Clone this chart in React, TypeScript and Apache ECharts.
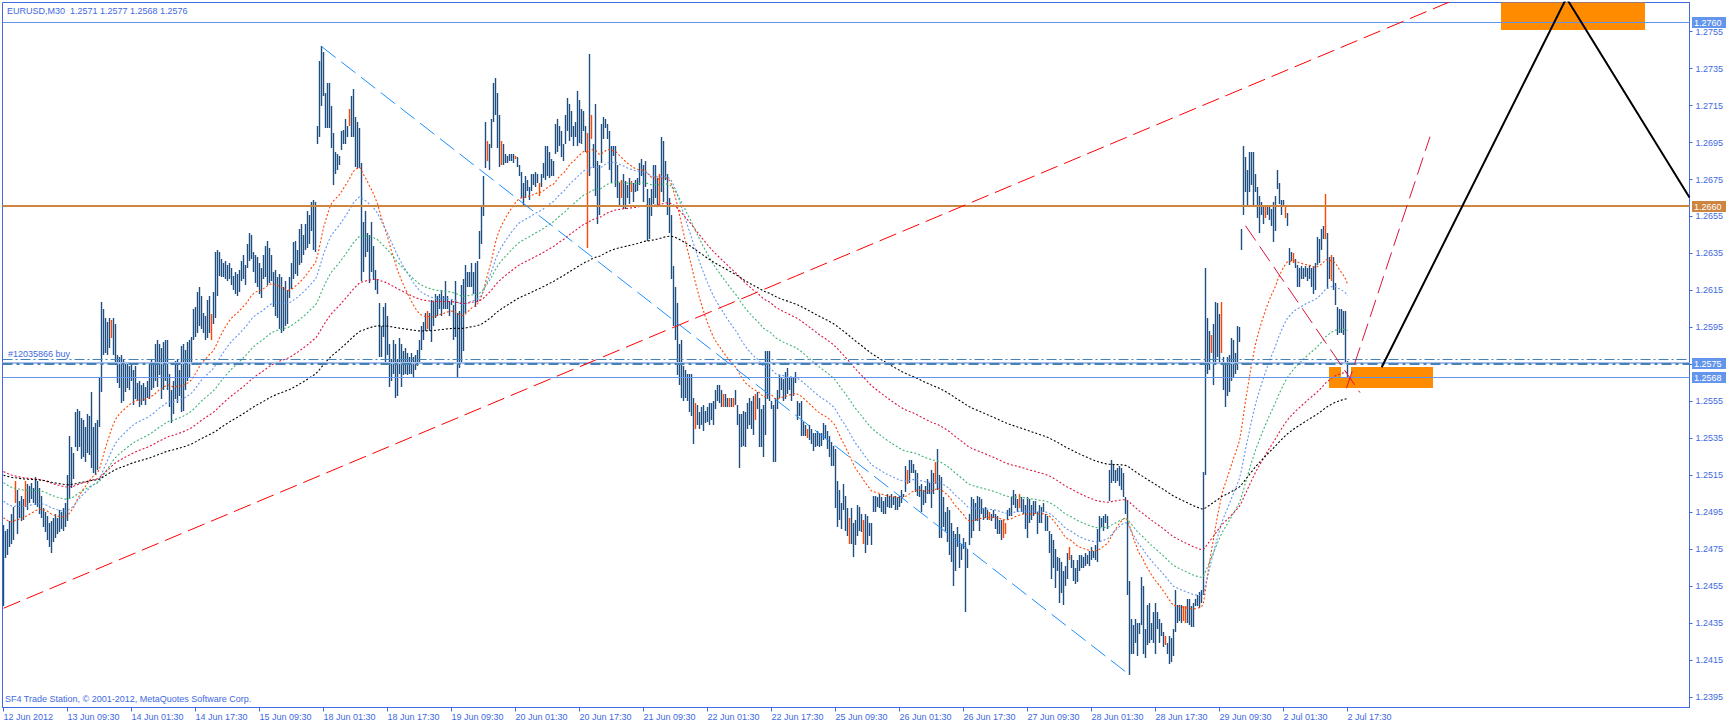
import { useEffect, useRef } from 'react';
import * as echarts from 'echarts';

const FONT = '"Liberation Sans", Arial, Helvetica, sans-serif';
const TEXT_BLUE = '#4169E1';

const symbolName = 'EURUSD,M30';
const lastBarOHLC = [1.2571, 1.2577, 1.2568, 1.2576];
const copyrightText = 'SF4 Trade Station, \u00a9 2001-2012, MetaQuotes Software Corp.';

const timeLabels = [
  '12 Jun 2012', '13 Jun 09:30', '14 Jun 01:30', '14 Jun 17:30', '15 Jun 09:30', '18 Jun 01:30',
  '18 Jun 17:30', '19 Jun 09:30', '20 Jun 01:30', '20 Jun 17:30', '21 Jun 09:30', '22 Jun 01:30',
  '22 Jun 17:30', '25 Jun 09:30', '26 Jun 01:30', '26 Jun 17:30', '27 Jun 09:30', '28 Jun 01:30',
  '28 Jun 17:30', '29 Jun 09:30', '2 Jul 01:30', '2 Jul 17:30',
];
const barsPerLabel = 32;

const priceTicks = [
  1.2395, 1.2415, 1.2435, 1.2455, 1.2475, 1.2495, 1.2515, 1.2535, 1.2555, 1.2575,
  1.2595, 1.2615, 1.2635, 1.2655, 1.2675, 1.2695, 1.2715, 1.2735, 1.2755,
];

// M30 bars, 12 Jun 17:30 .. 2 Jul 17:30
const barHighs = [
  1.2488,1.2485,1.2486,1.2490,1.2494,1.2498,1.2512,1.2507,1.2501,1.2504,
  1.2502,1.2512,1.2510,1.2509,1.2511,1.2508,1.2514,1.2512,1.2508,1.2504,
  1.2497,1.2495,1.2493,1.2489,1.2490,1.2492,1.2494,1.2492,1.2496,1.2495,
  1.2497,1.2500,1.2515,1.2536,1.2530,1.2527,1.2549,1.2551,1.2550,1.2546,
  1.2545,1.2541,1.2548,1.2547,1.2560,1.2541,1.2543,1.2545,1.2568,1.2609,
  1.2605,1.2600,1.2598,1.2600,1.2599,1.2600,1.2597,1.2580,1.2579,1.2580,
  1.2578,1.2575,1.2576,1.2574,1.2575,1.2572,1.2574,1.2565,1.2566,1.2564,
  1.2565,1.2563,1.2566,1.2575,1.2578,1.2576,1.2586,1.2588,1.2586,1.2584,
  1.2587,1.2588,1.2588,1.2570,1.2561,1.2566,1.2577,1.2578,1.2572,1.2585,
  1.2586,1.2583,1.2587,1.2588,1.2590,1.2605,1.2606,1.2614,1.2617,1.2612,
  1.2603,1.2601,1.2610,1.2612,1.2602,1.2614,1.2636,1.2637,1.2636,1.2632,
  1.2630,1.2631,1.2629,1.2630,1.2627,1.2623,1.2625,1.2624,1.2626,1.2631,
  1.2634,1.2629,1.2640,1.2646,1.2645,1.2636,1.2634,1.2633,1.2630,1.2627,
  1.2634,1.2639,1.2642,1.2638,1.2634,1.2625,1.2626,1.2622,1.2624,1.2622,
  1.2617,1.2620,1.2615,1.2622,1.2630,1.2641,1.2642,1.2637,1.2648,1.2651,
  1.2645,1.2651,1.2658,1.2656,1.2663,1.2664,1.2663,1.2704,1.2739,1.2747,
  1.2744,1.2722,1.2727,1.2727,1.2715,1.2700,1.2690,1.2689,1.2688,1.2701,
  1.2702,1.2708,1.2704,1.2713,1.2720,1.2724,1.2709,1.2706,1.2703,1.2684,
  1.2652,1.2658,1.2646,1.2645,1.2652,1.2639,1.2626,1.2621,1.2608,1.2596,
  1.2606,1.2608,1.2601,1.2586,1.2578,1.2588,1.2586,1.2578,1.2589,1.2586,
  1.2582,1.2584,1.2581,1.2579,1.2581,1.2579,1.2580,1.2583,1.2588,1.2596,
  1.2598,1.2603,1.2604,1.2603,1.2610,1.2609,1.2613,1.2612,1.2613,1.2615,
  1.2612,1.2620,1.2612,1.2609,1.2610,1.2607,1.2620,1.2603,1.2604,1.2618,
  1.2621,1.2629,1.2625,1.2625,1.2630,1.2625,1.2630,1.2631,1.2647,1.2661,
  1.2677,1.2706,1.2696,1.2694,1.2708,1.2727,1.2730,1.2722,1.2710,1.2696,
  1.2694,1.2689,1.2688,1.2689,1.2689,1.2689,1.2688,1.2687,1.2683,1.2679,
  1.2673,1.2677,1.2675,1.2671,1.2678,1.2678,1.2679,1.2678,1.2673,1.2678,
  1.2684,1.2693,1.2693,1.2690,1.2686,1.2685,1.2705,1.2708,1.2704,1.2701,
  1.2694,1.2710,1.2719,1.2716,1.2712,1.2704,1.2706,1.2723,1.2718,1.2713,
  1.2712,1.2704,1.2700,1.2743,1.2710,1.2694,1.2716,1.2685,1.2683,1.2705,
  1.2709,1.2708,1.2705,1.2701,1.2693,1.2693,1.2693,1.2683,1.2673,1.2675,
  1.2678,1.2674,1.2672,1.2676,1.2674,1.2673,1.2675,1.2676,1.2684,1.2686,
  1.2683,1.2685,1.2670,1.2665,1.2670,1.2683,1.2683,1.2676,1.2678,1.2698,
  1.2696,1.2685,1.2678,1.2665,1.2656,1.2628,1.2617,1.2608,1.2586,1.2588,
  1.2574,1.2572,1.2570,1.2570,1.2570,1.2557,1.2554,1.2553,1.2549,1.2552,
  1.2553,1.2550,1.2552,1.2554,1.2554,1.2555,1.2561,1.2564,1.2564,1.2561,
  1.2559,1.2559,1.2557,1.2557,1.2557,1.2557,1.2561,1.2553,1.2548,1.2548,
  1.2550,1.2549,1.2554,1.2557,1.2555,1.2558,1.2559,1.2560,1.2557,1.2551,
  1.2553,1.2582,1.2582,1.2582,1.2555,1.2553,1.2557,1.2561,1.2569,1.2568,
  1.2567,1.2571,1.2573,1.2568,1.2568,1.2568,1.2571,1.2555,1.2554,1.2555,
  1.2544,1.2542,1.2540,1.2542,1.2540,1.2538,1.2538,1.2539,1.2538,1.2538,
  1.2543,1.2542,1.2539,1.2536,1.2533,1.2531,1.2529,1.2512,1.2507,1.2500,
  1.2510,1.2504,1.2497,1.2492,1.2497,1.2489,1.2491,1.2499,1.2498,1.2494,
  1.2491,1.2494,1.2493,1.2489,1.2489,1.2504,1.2504,1.2503,1.2505,1.2503,
  1.2501,1.2503,1.2505,1.2504,1.2505,1.2503,1.2504,1.2503,1.2504,1.2507,
  1.2505,1.2520,1.2518,1.2523,1.2523,1.2521,1.2518,1.2516,1.2509,1.2510,
  1.2507,1.2509,1.2513,1.2511,1.2518,1.2516,1.2522,1.2529,1.2515,1.2514,
  1.2503,1.2495,1.2498,1.2496,1.2489,1.2485,1.2483,1.2487,1.2483,1.2478,
  1.2481,1.2479,1.2475,1.2494,1.2503,1.2502,1.2500,1.2504,1.2503,1.2502,
  1.2497,1.2498,1.2496,1.2495,1.2494,1.2496,1.2494,1.2493,1.2491,1.2491,
  1.2491,1.2489,1.2496,1.2497,1.2503,1.2507,1.2505,1.2502,1.2505,1.2503,
  1.2502,1.2499,1.2503,1.2502,1.2499,1.2501,1.2501,1.2495,1.2499,1.2498,
  1.2500,1.2494,1.2493,1.2485,1.2483,1.2480,1.2475,1.2471,1.2470,1.2468,
  1.2463,1.2466,1.2473,1.2476,1.2472,1.2469,1.2465,1.2469,1.2472,1.2472,
  1.2471,1.2473,1.2472,1.2474,1.2476,1.2474,1.2477,1.2486,1.2493,1.2492,
  1.2493,1.2494,1.2493,1.2518,1.2523,1.2521,1.2518,1.2519,1.2520,1.2519,
  1.2516,1.2503,1.2501,1.2458,1.2437,1.2434,1.2437,1.2435,1.2435,1.2460,
  1.2455,1.2432,1.2445,1.2446,1.2435,1.2441,1.2446,1.2441,1.2437,1.2435,
  1.2430,1.2428,1.2424,1.2428,1.2427,1.2432,1.2453,1.2445,1.2445,1.2445,
  1.2444,1.2444,1.2448,1.2448,1.2444,1.2446,1.2448,1.2450,1.2452,1.2453,
  1.2517,1.2627,1.2600,1.2593,1.2591,1.2597,1.2609,1.2608,1.2602,1.2609,
  1.2579,1.2576,1.2579,1.2580,1.2589,1.2588,1.2581,1.2596,1.2595,1.2648,
  1.2693,1.2687,1.2680,1.2690,1.2690,1.2690,1.2678,1.2671,1.2666,1.2663,
  1.2660,1.2660,1.2661,1.2660,1.2659,1.2663,1.2666,1.2680,1.2673,1.2664,
  1.2664,1.2661,1.2657,1.2638,1.2636,1.2635,1.2632,1.2629,1.2627,1.2628,
  1.2627,1.2628,1.2627,1.2629,1.2627,1.2628,1.2630,1.2644,1.2643,1.2648,
  1.2650,1.2667,1.2646,1.2633,1.2634,1.2633,1.2619,1.2606,1.2605,1.2605,
  1.2604,1.2604,1.2577,
];

const barLows = [
  1.2444,1.2470,1.2472,1.2476,1.2478,1.2480,1.2500,1.2483,1.2492,1.2490,
  1.2491,1.2498,1.2496,1.2500,1.2502,1.2500,1.2499,1.2498,1.2494,1.2492,
  1.2487,1.2484,1.2480,1.2476,1.2473,1.2479,1.2481,1.2483,1.2484,1.2486,
  1.2485,1.2487,1.2490,1.2502,1.2508,1.2513,1.2530,1.2528,1.2530,1.2524,
  1.2525,1.2522,1.2527,1.2526,1.2519,1.2516,1.2515,1.2518,1.2541,1.2560,
  1.2580,1.2581,1.2580,1.2584,1.2589,1.2580,1.2575,1.2565,1.2562,1.2554,
  1.2555,1.2560,1.2562,1.2561,1.2566,1.2553,1.2556,1.2555,1.2552,1.2553,
  1.2555,1.2553,1.2557,1.2556,1.2561,1.2562,1.2566,1.2563,1.2569,1.2556,
  1.2561,1.2566,1.2561,1.2552,1.2543,1.2548,1.2556,1.2554,1.2558,1.2549,
  1.2550,1.2561,1.2566,1.2568,1.2575,1.2588,1.2590,1.2592,1.2596,1.2594,
  1.2592,1.2588,1.2589,1.2592,1.2588,1.2597,1.2600,1.2612,1.2623,1.2622,
  1.2622,1.2621,1.2620,1.2621,1.2618,1.2615,1.2613,1.2612,1.2614,1.2620,
  1.2621,1.2618,1.2627,1.2631,1.2632,1.2625,1.2619,1.2617,1.2613,1.2611,
  1.2621,1.2622,1.2618,1.2619,1.2620,1.2606,1.2601,1.2600,1.2594,1.2592,
  1.2593,1.2596,1.2597,1.2611,1.2616,1.2621,1.2624,1.2623,1.2629,1.2630,
  1.2634,1.2637,1.2638,1.2640,1.2647,1.2637,1.2636,1.2694,1.2698,1.2715,
  1.2720,1.2703,1.2703,1.2703,1.2692,1.2672,1.2678,1.2680,1.2683,1.2691,
  1.2694,1.2694,1.2698,1.2704,1.2698,1.2698,1.2682,1.2681,1.2681,1.2620,
  1.2625,1.2633,1.2636,1.2619,1.2625,1.2621,1.2615,1.2613,1.2579,1.2579,
  1.2590,1.2575,1.2580,1.2563,1.2566,1.2570,1.2557,1.2558,1.2570,1.2563,
  1.2569,1.2570,1.2569,1.2570,1.2570,1.2568,1.2572,1.2574,1.2576,1.2583,
  1.2588,1.2593,1.2594,1.2593,1.2587,1.2596,1.2600,1.2601,1.2605,1.2601,
  1.2605,1.2605,1.2605,1.2601,1.2607,1.2588,1.2590,1.2568,1.2573,1.2576,
  1.2582,1.2603,1.2617,1.2617,1.2617,1.2613,1.2606,1.2609,1.2632,1.2640,
  1.2655,1.2681,1.2685,1.2680,1.2692,1.2706,1.2710,1.2692,1.2682,1.2683,
  1.2683,1.2684,1.2684,1.2685,1.2685,1.2684,1.2686,1.2682,1.2677,1.2665,
  1.2661,1.2665,1.2669,1.2664,1.2669,1.2672,1.2671,1.2673,1.2666,1.2671,
  1.2676,1.2675,1.2677,1.2676,1.2677,1.2677,1.2689,1.2690,1.2693,1.2687,
  1.2685,1.2694,1.2701,1.2696,1.2698,1.2693,1.2698,1.2693,1.2695,1.2694,
  1.2701,1.2690,1.2638,1.2677,1.2697,1.2681,1.2666,1.2651,1.2656,1.2684,
  1.2697,1.2703,1.2697,1.2680,1.2673,1.2688,1.2671,1.2665,1.2660,1.2665,
  1.2659,1.2659,1.2665,1.2662,1.2668,1.2663,1.2668,1.2669,1.2672,1.2677,
  1.2663,1.2671,1.2642,1.2643,1.2655,1.2662,1.2665,1.2661,1.2661,1.2668,
  1.2663,1.2675,1.2656,1.2646,1.2621,1.2596,1.2588,1.2569,1.2564,1.2557,
  1.2555,1.2557,1.2555,1.2549,1.2547,1.2532,1.2540,1.2542,1.2540,1.2542,
  1.2539,1.2543,1.2544,1.2542,1.2545,1.2542,1.2551,1.2555,1.2554,1.2552,
  1.2552,1.2552,1.2552,1.2552,1.2552,1.2552,1.2553,1.2542,1.2519,1.2530,
  1.2531,1.2530,1.2540,1.2542,1.2540,1.2537,1.2545,1.2551,1.2530,1.2530,
  1.2525,1.2537,1.2556,1.2555,1.2551,1.2522,1.2522,1.2551,1.2557,1.2561,
  1.2555,1.2556,1.2559,1.2561,1.2555,1.2558,1.2565,1.2545,1.2547,1.2536,
  1.2536,1.2536,1.2535,1.2534,1.2532,1.2528,1.2530,1.2531,1.2530,1.2531,
  1.2534,1.2535,1.2529,1.2525,1.2520,1.2520,1.2497,1.2487,1.2491,1.2486,
  1.2496,1.2485,1.2482,1.2478,1.2478,1.2471,1.2477,1.2482,1.2485,1.2484,
  1.2478,1.2473,1.2477,1.2482,1.2477,1.2495,1.2495,1.2498,1.2497,1.2495,
  1.2494,1.2494,1.2498,1.2497,1.2497,1.2499,1.2496,1.2496,1.2498,1.2500,
  1.2503,1.2506,1.2510,1.2511,1.2516,1.2516,1.2506,1.2504,1.2503,1.2495,
  1.2499,1.2500,1.2505,1.2505,1.2497,1.2505,1.2510,1.2507,1.2481,1.2481,
  1.2487,1.2485,1.2479,1.2472,1.2468,1.2455,1.2463,1.2476,1.2465,1.2469,
  1.2475,1.2441,1.2465,1.2477,1.2481,1.2485,1.2490,1.2490,1.2485,1.2494,
  1.2491,1.2492,1.2491,1.2491,1.2490,1.2492,1.2486,1.2483,1.2483,1.2480,
  1.2481,1.2483,1.2491,1.2493,1.2493,1.2499,1.2497,1.2495,1.2497,1.2495,
  1.2494,1.2486,1.2481,1.2489,1.2491,1.2493,1.2494,1.2483,1.2489,1.2489,
  1.2495,1.2485,1.2485,1.2473,1.2459,1.2465,1.2454,1.2463,1.2446,1.2451,
  1.2445,1.2455,1.2459,1.2469,1.2465,1.2458,1.2456,1.2457,1.2463,1.2465,
  1.2465,1.2466,1.2467,1.2466,1.2469,1.2470,1.2469,1.2468,1.2479,1.2487,
  1.2485,1.2489,1.2486,1.2501,1.2511,1.2512,1.2511,1.2512,1.2509,1.2507,
  1.2503,1.2494,1.2450,1.2407,1.2418,1.2418,1.2424,1.2417,1.2429,1.2434,
  1.2418,1.2416,1.2423,1.2424,1.2426,1.2424,1.2418,1.2432,1.2424,1.2428,
  1.2422,1.2423,1.2418,1.2413,1.2414,1.2417,1.2430,1.2435,1.2436,1.2435,
  1.2436,1.2435,1.2435,1.2434,1.2433,1.2433,1.2444,1.2444,1.2443,1.2446,
  1.2450,1.2515,1.2570,1.2572,1.2581,1.2564,1.2576,1.2579,1.2575,1.2581,
  1.2561,1.2552,1.2558,1.2560,1.2566,1.2568,1.2570,1.2572,1.2587,1.2637,
  1.2656,1.2668,1.2660,1.2668,1.2672,1.2660,1.2668,1.2654,1.2646,1.2656,
  1.2651,1.2654,1.2656,1.2653,1.2650,1.2641,1.2647,1.2670,1.2662,1.2656,
  1.2660,1.2654,1.2650,1.2629,1.2631,1.2630,1.2627,1.2617,1.2617,1.2621,
  1.2621,1.2622,1.2620,1.2621,1.2617,1.2613,1.2615,1.2629,1.2630,1.2637,
  1.2643,1.2643,1.2616,1.2621,1.2620,1.2615,1.2607,1.2591,1.2592,1.2592,
  1.2591,1.2576,1.2568,
];

const orangeBars = [
  6, 11, 54, 104, 173, 212, 242, 249, 256, 268, 292, 294, 309, 314, 328, 346, 360, 363, 365, 376,
  402, 423, 430, 452, 466, 493, 500, 501, 508, 533, 581, 590, 591, 604, 609, 631, 641, 645, 661, 664,
];

// exponential moving averages (median price), value at the first bar
const emaPeriods = [34, 55, 89, 144, 233];
const emaStartValues = [1.2492, 1.2501, 1.2511, 1.2517, 1.2515];

// horizontal levels
const levelValues = [1.27603, 1.26607, 1.25777, 1.25759, 1.2575, 1.2568];
const levelLabels = ['1.2760', '1.2660', '', '1.2575', '', '1.2568'];
const levelTags = ['', '', '#12035866 buy', '', '', ''];

// trend lines: [bar index, price]
const redTrend = [[0, 1.2443], [725, 1.2772]];
const blueTrend = [[159, 1.2747], [563, 1.2407]];
const crimsonDown = [[621, 1.2650], [678.25, 1.25597]];
const crimsonUp = [[671.5, 1.25621], [713.25, 1.26982]];
const blackPath = [[689.1, 1.25734], [781.45, 1.27732], [843, 1.26653]];

// rectangles: [from bar, to bar, top price, bottom price]
const zoneRects = [
  [662.75, 714.75, 1.25736, 1.25623],
  [748.75, 820.75, 1.278, 1.27561],
  [668.75, 673.75, 1.25736, 1.25682],
];

const BAR_COLOR = '#1F4F80';
const BAR_UP_COLOR = '#FF4500';
const emaColors = ['#FF4500', '#6495ED', '#3CB371', '#DC143C', '#000000'];
const zoneColors = ['#FF8C00', '#FF8C00', '#FFFFFF'];
const levelStyles = [
  { stroke: '#6495ED', width: 1, dash: null, bg: '#6495ED' },
  { stroke: '#CD853F', width: 2, dash: null, bg: '#CD853F' },
  { stroke: '#4682B4', width: 1, dash: [10, 3, 2, 3], bg: '' },
  { stroke: '#A4BEEE', width: 2, dash: null, bg: '#6495ED' },
  { stroke: '#4682B4', width: 2, dash: [10, 4, 3, 4], bg: '' },
  { stroke: '#6495ED', width: 1, dash: null, bg: '#6495ED' },
];

function buildOption() {
  const n = Math.min(barHighs.length, barLows.length);
  const orangeSet = new Set(orangeBars);
  const barData = [];
  const mids = [];
  for (let i = 0; i < n; i++) {
    barData.push([i, barLows[i], barHighs[i], orangeSet.has(i) ? 1 : 0]);
    mids.push((barHighs[i] + barLows[i]) / 2);
  }
  const emaSeries = emaPeriods.map((p, k) => {
    const a = 2 / (p + 1);
    let e = emaStartValues[k];
    const data = mids.map((m, i) => {
      if (i > 0) e = e + a * (m - e);
      return [i, e];
    });
    return {
      type: 'line', data, symbol: 'none', showSymbol: false, silent: true, z: 4, clip: true,
      lineStyle: { color: emaColors[k], width: 1.1, type: [2, 2] },
    };
  });
  const trend = (data, color, width, dash) => ({
    type: 'line', data, symbol: 'none', showSymbol: false, silent: true, z: 6, clip: true,
    lineStyle: { color, width, type: dash },
  });
  const header = `${symbolName}  ${lastBarOHLC.map((v) => v.toFixed(4)).join(' ')}`;

  return {
    animation: false,
    backgroundColor: '#ffffff',
    grid: { left: 2.5, top: 2.5, width: 1687, height: 705, show: true, borderColor: TEXT_BLUE, borderWidth: 1, backgroundColor: 'transparent' },
    xAxis: {
      type: 'value', min: -0.5, max: 843,
      axisLine: { show: true, onZero: false, lineStyle: { color: TEXT_BLUE, width: 1 } },
      axisTick: { show: true, customValues: timeLabels.map((_, k) => k * barsPerLabel), length: 4, lineStyle: { color: TEXT_BLUE } },
      axisLabel: {
        show: true, customValues: timeLabels.map((_, k) => k * barsPerLabel),
        formatter: (v) => timeLabels[Math.round(v / barsPerLabel)] ?? '',
        align: 'left', color: TEXT_BLUE, fontSize: 9, fontFamily: FONT, margin: 5,
      },
      splitLine: { show: false },
    },
    yAxis: {
      type: 'value', min: 1.23893, max: 1.27708, position: 'right', scale: true,
      axisLine: { show: true, onZero: false, lineStyle: { color: TEXT_BLUE, width: 1 } },
      axisTick: { show: true, customValues: priceTicks, length: 3, lineStyle: { color: TEXT_BLUE } },
      axisLabel: {
        show: true, customValues: priceTicks, formatter: (v) => v.toFixed(4),
        color: TEXT_BLUE, fontSize: 9, fontFamily: FONT, margin: 6,
      },
      splitLine: { show: false },
    },
    series: [
      {
        type: 'custom', z: 1, clip: true, silent: true,
        data: zoneRects.map((r, k) => [r[0], r[1], r[2], r[3], k]),
        encode: { x: [0, 1], y: [2, 3] },
        renderItem: (params, api) => {
          const p1 = api.coord([api.value(0), api.value(2)]);
          const p2 = api.coord([api.value(1), api.value(3)]);
          const x1 = Math.round(p1[0]);
          const x2 = Math.round(p2[0]);
          return {
            type: 'rect',
            shape: { x: x1, y: Math.round(p1[1]), width: x2 - x1, height: Math.round(p2[1]) - Math.round(p1[1]) },
            style: { fill: zoneColors[api.value(4)] },
          };
        },
      },
      {
        type: 'custom', z: 2, clip: true, silent: true,
        data: barData,
        dimensions: ['idx', 'low', 'high', 'up'],
        encode: { x: 0, y: [1, 2] },
        renderItem: (params, api) => {
          const i = api.value(0);
          const pLo = api.coord([i, api.value(1)]);
          const pHi = api.coord([i, api.value(2)]);
          const x = Math.floor(pLo[0]);
          const y1 = Math.round(pLo[1]);
          let y2 = Math.round(pHi[1]);
          if (y1 - y2 < 1) y2 = y1 - 1;
          return {
            type: 'rect',
            shape: { x: x - 0.2, y: y2, width: 1.4, height: y1 - y2 },
            style: { fill: api.value(3) ? BAR_UP_COLOR : BAR_COLOR },
          };
        },
      },
      ...emaSeries,
      {
        type: 'custom', z: 5, clip: false, silent: true,
        data: levelValues.map((v, k) => [k, v]),
        encode: { x: 0, y: 1 },
        renderItem: (params, api) => {
          const k = api.value(0);
          const st = levelStyles[k];
          const cs = params.coordSys;
          const raw = api.coord([0, api.value(1)])[1];
          const y = Math.round(raw) + (st.width % 2 === 1 ? 0.5 : 0);
          const children = [
            {
              type: 'line',
              shape: { x1: cs.x, y1: y, x2: cs.x + cs.width, y2: y },
              style: { stroke: st.stroke, lineWidth: st.width, lineDash: st.dash || undefined },
            },
          ];
          if (levelLabels[k]) {
            children.push({
              type: 'rect',
              shape: { x: cs.x + cs.width + 2.5, y: Math.round(raw) - 5, width: 34, height: 11 },
              style: { fill: st.bg },
            });
            children.push({
              type: 'text',
              x: cs.x + cs.width + 4.5, y: Math.round(raw) + 0.5,
              style: { text: levelLabels[k], fill: '#ffffff', font: `9px ${FONT}`, align: 'left', verticalAlign: 'middle' },
            });
          }
          if (levelTags[k]) {
            children.push({
              type: 'text',
              x: cs.x + 5.5, y: Math.round(raw) - 5.5,
              style: { text: levelTags[k], fill: TEXT_BLUE, font: `9px ${FONT}`, align: 'left', verticalAlign: 'middle' },
            });
          }
          return { type: 'group', children };
        },
      },
      trend(redTrend, '#FF0000', 1, [18, 7]),
      trend(blueTrend, '#1E90FF', 1, [18, 7]),
      trend(crimsonDown, '#DC143C', 1, [18, 7]),
      trend(crimsonUp, '#DC143C', 1, [18, 7]),
      trend(blackPath, '#000000', 2, 'solid'),
    ],
    graphic: [
      { type: 'text', x: 7, y: 10.7, silent: true, style: { text: header, fill: TEXT_BLUE, font: `9px ${FONT}`, verticalAlign: 'middle' } },
      { type: 'text', x: 5, y: 698.7, silent: true, style: { text: copyrightText, fill: TEXT_BLUE, font: `9px ${FONT}`, verticalAlign: 'middle' } },
    ],
  };
}

export default function App() {
  const ref = useRef<HTMLDivElement>(null);
  useEffect(() => {
    if (!ref.current) return;
    const chart = echarts.init(ref.current, null, { renderer: 'svg', width: 1727, height: 724 });
    chart.setOption(buildOption() as any);
    return () => chart.dispose();
  }, []);
  return <div ref={ref} style={{ position: 'fixed', left: 0, top: 0, width: 1727, height: 724, background: '#fff' }} />;
}
